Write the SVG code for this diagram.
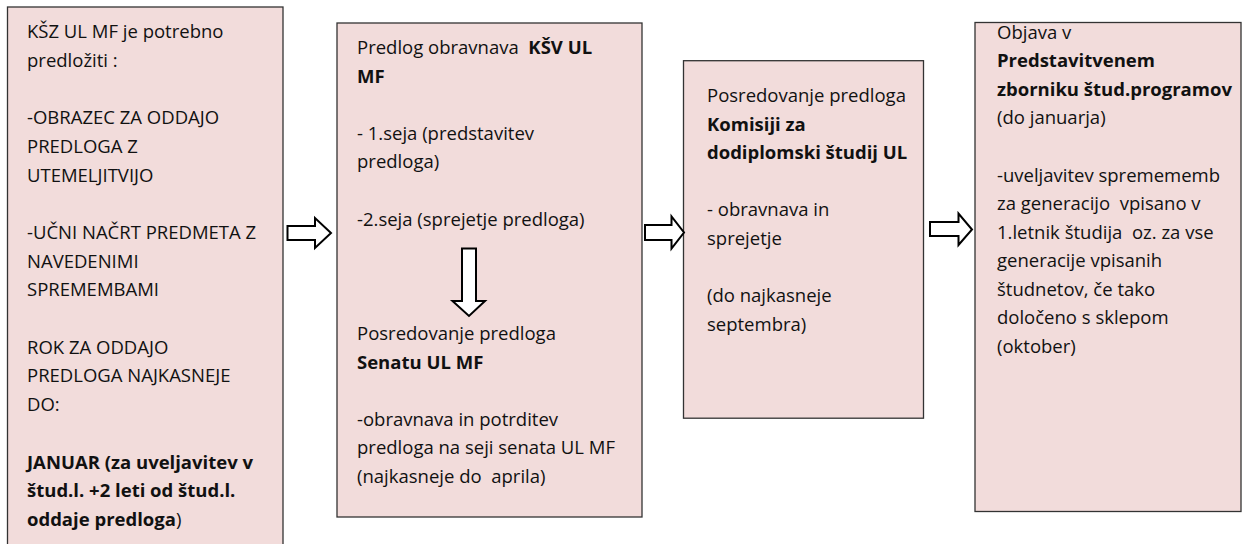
<svg xmlns="http://www.w3.org/2000/svg" width="1242" height="544" viewBox="0 0 1242 544">
<style>
.box{fill:#f2dcdb;stroke:#333;stroke-width:1.3}
.t{font-family:'Open Sans','Liberation Sans',sans-serif;font-size:18.5px;fill:#111;white-space:pre}
.b{font-weight:bold}
.arr{fill:#fff;stroke:#000;stroke-width:2;stroke-linejoin:miter}
</style>
<rect width="1242" height="544" fill="#fff"/>
<g id="node-1">
<rect class="box" x="7.5" y="7" width="275.5" height="560"/>
<text class="t" x="27" y="38">KŠZ UL MF je potrebno</text>
<text class="t" x="27" y="66.7">predložiti :</text>
<text class="t" x="27" y="124.1">-OBRAZEC ZA ODDAJO</text>
<text class="t" x="27" y="152.8">PREDLOGA Z</text>
<text class="t" x="27" y="181.5">UTEMELJITVIJO</text>
<text class="t" x="27" y="238.9">-UČNI NAČRT PREDMETA Z</text>
<text class="t" x="27" y="267.6">NAVEDENIMI</text>
<text class="t" x="27" y="296.3">SPREMEMBAMI</text>
<text class="t" x="27" y="353.7">ROK ZA ODDAJO</text>
<text class="t" x="27" y="382.4">PREDLOGA NAJKASNEJE</text>
<text class="t" x="27" y="411.1">DO:</text>
<text class="t b" x="27" y="468.5">JANUAR (za uveljavitev v</text>
<text class="t b" x="27" y="497.2">štud.l. +2 leti od štud.l.</text>
<text class="t" x="27" y="525.9"><tspan class="b">oddaje predloga</tspan>)</text>
</g>
<g id="node-2">
<rect class="box" x="337" y="23" width="305" height="494"/>
<text class="t" x="357" y="54">Predlog obravnava  <tspan class="b">KŠV UL</tspan></text>
<text class="t b" x="357" y="82.6">MF</text>
<text class="t" x="357" y="139.8">- 1.seja (predstavitev</text>
<text class="t" x="357" y="168.4">predloga)</text>
<text class="t" x="357" y="225.6">-2.seja (sprejetje predloga)</text>
<text class="t" x="357" y="340">Posredovanje predloga</text>
<text class="t b" x="357" y="368.6">Senatu UL MF</text>
<text class="t" x="357" y="425.8">-obravnava in potrditev</text>
<text class="t" x="357" y="454.4">predloga na seji senata UL MF</text>
<text class="t" x="357" y="483">(najkasneje do  aprila)</text>
</g>
<g id="node-3">
<rect class="box" x="683.5" y="60.7" width="240" height="357.5"/>
<text class="t" x="707" y="102">Posredovanje predloga</text>
<text class="t b" x="707" y="130.6">Komisiji za</text>
<text class="t b" x="707" y="159.2">dodiplomski študij UL</text>
<text class="t" x="707" y="216.4">- obravnava in</text>
<text class="t" x="707" y="245">sprejetje</text>
<text class="t" x="707" y="302.2">(do najkasneje</text>
<text class="t" x="707" y="330.8">septembra)</text>
</g>
<g id="node-4">
<rect class="box" x="975" y="22.5" width="266" height="489"/>
<text class="t" x="997" y="39">Objava v</text>
<text class="t b" x="997" y="67.4">Predstavitvenem</text>
<text class="t b" x="997" y="95.9">zborniku štud.programov</text>
<text class="t" x="997" y="124.4">(do januarja)</text>
<text class="t" x="997" y="181.5">-uveljavitev spremememb</text>
<text class="t" x="997" y="210">za generacijo  vpisano v</text>
<text class="t" x="997" y="238.6">1.letnik študija  oz. za vse</text>
<text class="t" x="997" y="267.1">generacije vpisanih</text>
<text class="t" x="997" y="295.7">študnetov, če tako</text>
<text class="t" x="997" y="324.3">določeno s sklepom</text>
<text class="t" x="997" y="352.9">(oktober)</text>
</g>
<g id="connectors">
<path class="arr" d="M287.5,226 H315 V218 L331,233 L315,248 V240 H287.5 Z"/>
<path class="arr" d="M645,225 H671.5 V216.5 L684,232.5 L671.5,248.5 V240 H645 Z"/>
<path class="arr" d="M930,222 H958.5 V213.5 L972,229.5 L958.5,245 V236 H930 Z"/>
<path class="arr" d="M462,248.5 H476 V301 H485 L469,316 L452.5,301 H462 Z"/>
</g>
</svg>
